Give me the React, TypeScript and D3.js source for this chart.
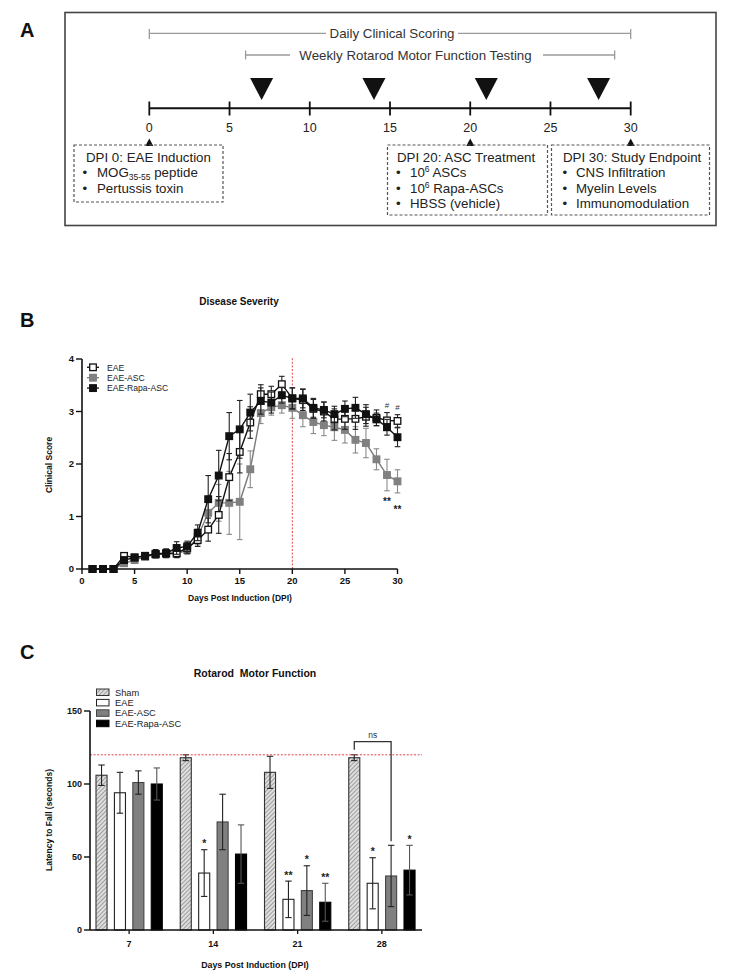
import React from "react";
import * as d3 from "d3";

const FONT = "'Liberation Sans', Arial, Helvetica, sans-serif";

// ---------- Panel A data ----------
const timelineTicks = [0, 5, 10, 15, 20, 25, 30];
const rotarodTestDays = [7, 14, 21, 28];
const milestoneDays = [0, 20, 30];
const clinicalSpan = [0, 30];
const rotarodSpan = [6, 29];
const boxTitles = ["DPI 0: EAE Induction", "DPI 20: ASC Treatment", "DPI 30: Study Endpoint"];
type Seg = { t: string; s?: "sub" | "sup" };
const box1Items: Seg[][] = [[{ t: "MOG" }, { t: "35-55", s: "sub" }, { t: " peptide" }], [{ t: "Pertussis toxin" }]];
const box2Items: Seg[][] = [
  [{ t: "10" }, { t: "6", s: "sup" }, { t: " ASCs" }],
  [{ t: "10" }, { t: "6", s: "sup" }, { t: " Rapa-ASCs" }],
  [{ t: "HBSS (vehicle)" }],
];
const box3Items: Seg[][] = [[{ t: "CNS Infiltration" }], [{ t: "Myelin Levels" }], [{ t: "Immunomodulation" }]];

// ---------- Panel B data ----------
const dpi = [1, 2, 3, 4, 5, 6, 7, 8, 9, 10, 11, 12, 13, 14, 15, 16, 17, 18, 19, 20, 21, 22, 23, 24, 25, 26, 27, 28, 29, 30];
const eaeScore = [0, 0, 0, 0.25, 0.22, 0.25, 0.28, 0.3, 0.3, 0.4, 0.55, 0.75, 1.03, 1.75, 2.23, 2.79, 3.33, 3.33, 3.52, 3.25, 3.22, 3.05, 3.0, 2.85, 2.86, 2.86, 2.9, 2.88, 2.83, 2.82];
const eaeScoreErr = [0, 0, 0, 0.05, 0.04, 0.05, 0.06, 0.08, 0.08, 0.1, 0.12, 0.22, 0.35, 0.45, 0.4, 0.3, 0.18, 0.15, 0.15, 0.2, 0.2, 0.18, 0.18, 0.2, 0.2, 0.2, 0.18, 0.15, 0.15, 0.12];
const ascScore = [0, 0, 0, 0.11, 0.17, 0.23, 0.28, 0.29, 0.29, 0.36, 0.61, 1.07, 1.26, 1.26, 1.28, 1.9, 2.97, 3.08, 3.12, 3.07, 2.93, 2.8, 2.74, 2.7, 2.65, 2.46, 2.4, 2.09, 1.79, 1.67];
const ascScoreErr = [0, 0, 0, 0.05, 0.05, 0.05, 0.06, 0.08, 0.08, 0.08, 0.15, 0.3, 0.35, 0.6, 0.72, 0.35, 0.2, 0.15, 0.15, 0.2, 0.22, 0.22, 0.2, 0.25, 0.25, 0.25, 0.28, 0.2, 0.3, 0.22];
const rapaScore = [0, 0, 0, 0.17, 0.22, 0.25, 0.29, 0.3, 0.4, 0.43, 0.69, 1.33, 1.78, 2.53, 2.66, 2.98, 3.2, 3.17, 3.31, 3.25, 3.25, 3.07, 3.03, 2.95, 3.05, 3.07, 2.95, 2.85, 2.7, 2.51];
const rapaScoreErr = [0, 0, 0, 0.05, 0.05, 0.05, 0.08, 0.08, 0.12, 0.1, 0.15, 0.45, 0.48, 0.45, 0.55, 0.35, 0.25, 0.2, 0.15, 0.2, 0.18, 0.18, 0.15, 0.15, 0.15, 0.2, 0.18, 0.12, 0.15, 0.18];
const bXTicks = [0, 5, 10, 15, 20, 25, 30];
const bYTicks = [0, 1, 2, 3, 4];
const treatmentDay = 20;
const hashDays = [29, 30];
const ascStarDays = [29, 30];

// ---------- Panel C data ----------
const rotGroups = ["7", "14", "21", "28"];
const rotSeries = ["Sham", "EAE", "EAE-ASC", "EAE-Rapa-ASC"];
const shamLatency = [106, 118, 108, 118];
const shamLatencyErr = [7, 2, 11, 2];
const eaeLatency = [94, 39, 21, 32];
const eaeLatencyErr = [14, 16, 12.5, 17.5];
const ascLatency = [101, 74, 27, 37];
const ascLatencyErr = [8, 19, 17, 21];
const rapaLatency = [100, 52, 19, 41];
const rapaLatencyErr = [11, 20, 13, 17];
const shamStars = ["", "", "", ""];
const eaeStars = ["", "*", "**", "*"];
const ascStars = ["", "", "*", ""];
const rapaStars = ["", "", "**", "*"];
const cYTicks = [0, 50, 100, 150];
const baselineLatency = 120;

function RichText({ x, y, segs, size }: { x: number; y: number; segs: Seg[]; size: number }) {
  const out: any[] = [];
  let shift = 0;
  segs.forEach((s, i) => {
    let target = 0;
    if (s.s === "sub") target = 2.8;
    if (s.s === "sup") target = -5;
    const dy = target - shift;
    shift = target;
    out.push(
      <tspan key={i} dy={dy} fontSize={s.s ? size * 0.64 : size}>
        {s.t}
      </tspan>
    );
  });
  return (
    <text x={x} y={y} fontSize={size} fill="#222">
      {out}
    </text>
  );
}

function PanelA() {
  const xA = d3.scaleLinear().domain([0, 30]).range([149.3, 630.7]);
  const axisY = 108.3;
  const fs = 13.3;
  const boxes = [
    { x: 74, y: 145, w: 149, h: 57, tx: 86, bx: 82.5, ix: 97, items: box1Items },
    { x: 387.5, y: 145, w: 160, h: 70, tx: 397, bx: 396, ix: 410, items: box2Items },
    { x: 551.5, y: 145, w: 158, h: 70, tx: 563, bx: 562.5, ix: 576, items: box3Items },
  ];
  return (
    <g fontFamily={FONT}>
      <rect x={65} y={12.5} width={651} height={213} fill="none" stroke="#444" strokeWidth={1.6} />
      <g stroke="#9a9a9a" strokeWidth={1.3}>
        <line x1={xA(clinicalSpan[0])} x2={326} y1={33.3} y2={33.3} />
        <line x1={458} x2={xA(clinicalSpan[1])} y1={33.3} y2={33.3} />
        <line x1={xA(clinicalSpan[0])} x2={xA(clinicalSpan[0])} y1={29} y2={39} />
        <line x1={xA(clinicalSpan[1])} x2={xA(clinicalSpan[1])} y1={29} y2={39} />
        <line x1={xA(rotarodSpan[0])} x2={290} y1={55} y2={55} />
        <line x1={543} x2={xA(rotarodSpan[1])} y1={55} y2={55} />
        <line x1={xA(rotarodSpan[0])} x2={xA(rotarodSpan[0])} y1={50.5} y2={59.5} />
        <line x1={xA(rotarodSpan[1])} x2={xA(rotarodSpan[1])} y1={50.5} y2={59.5} />
      </g>
      <text x={392} y={38} textAnchor="middle" fontSize={fs} fill="#333">Daily Clinical Scoring</text>
      <text x={415.5} y={59.8} textAnchor="middle" fontSize={fs} fill="#333">Weekly Rotarod Motor Function Testing</text>
      {rotarodTestDays.map((d) => (
        <polygon key={d} points={`${xA(d) - 11.5},78 ${xA(d) + 11.5},78 ${xA(d)},100`} fill="#111" />
      ))}
      <line x1={xA(0)} x2={xA(30)} y1={axisY} y2={axisY} stroke="#111" strokeWidth={2} />
      {timelineTicks.map((t) => (
        <g key={t}>
          <line x1={xA(t)} x2={xA(t)} y1={101.5} y2={115.5} stroke="#111" strokeWidth={1.8} />
          <text x={xA(t)} y={132} textAnchor="middle" fontSize={12.5} fill="#222">{t}</text>
        </g>
      ))}
      {milestoneDays.map((d) => (
        <polygon key={d} points={`${xA(d) - 4},146 ${xA(d) + 4},146 ${xA(d)},138.5`} fill="#111" />
      ))}
      {boxes.map((b, i) => (
        <g key={i}>
          <rect x={b.x} y={b.y} width={b.w} height={b.h} fill="none" stroke="#555" strokeWidth={1.2} strokeDasharray="3,2" />
          <text x={b.tx} y={161.7} fontSize={fs} fill="#222">{boxTitles[i]}</text>
          {b.items.map((it, j) => (
            <g key={j}>
              <text x={b.bx} y={177.2 + j * 15.5} fontSize={fs} fill="#222">•</text>
              <RichText x={b.ix} y={177.2 + j * 15.5} segs={it} size={fs} />
            </g>
          ))}
        </g>
      ))}
    </g>
  );
}

type Ser = { name: string; mean: number[]; err: number[]; fill: string; stroke: string; errColor: string };

function Marker({ x, y, fill, stroke }: { x: number; y: number; fill: string; stroke: string }) {
  const s = 6.6;
  return <rect x={x - s / 2} y={y - s / 2} width={s} height={s} fill={fill} stroke={stroke} strokeWidth={1.3} />;
}

function PanelB() {
  const xB = d3.scaleLinear().domain([0, 30]).range([82, 397.5]);
  const yB = d3.scaleLinear().domain([0, 4]).range([569, 359]);
  const series: Ser[] = [
    { name: "EAE-ASC", mean: ascScore, err: ascScoreErr, fill: "#808080", stroke: "#808080", errColor: "#8a8a8a" },
    { name: "EAE", mean: eaeScore, err: eaeScoreErr, fill: "#ffffff", stroke: "#111", errColor: "#222" },
    { name: "EAE-Rapa-ASC", mean: rapaScore, err: rapaScoreErr, fill: "#111", stroke: "#111", errColor: "#222" },
  ];
  const line = (m: number[]) =>
    d3
      .line<number>()
      .x((_, i) => xB(dpi[i]))
      .y((v) => yB(v))(m) as string;
  const legend = [series[1], series[0], series[2]];
  return (
    <g fontFamily={FONT}>
      <text x={239} y={305} textAnchor="middle" fontSize={10} fontWeight="bold" fill="#111">Disease Severity</text>
      <line x1={xB(treatmentDay)} x2={xB(treatmentDay)} y1={yB(0)} y2={358} stroke="#e0454a" strokeWidth={1} strokeDasharray="2,1.6" />
      <line x1={82} x2={82} y1={yB(0)} y2={yB(4)} stroke="#111" strokeWidth={1.6} />
      <line x1={82} x2={xB(30)} y1={yB(0)} y2={yB(0)} stroke="#111" strokeWidth={1.6} />
      {bYTicks.map((t) => (
        <g key={t}>
          <line x1={76} x2={82} y1={yB(t)} y2={yB(t)} stroke="#111" strokeWidth={1.4} />
          <text x={74} y={yB(t) + 3.3} textAnchor="end" fontSize={9.5} fontWeight="bold" fill="#111">{t}</text>
        </g>
      ))}
      {bXTicks.map((t) => (
        <g key={t}>
          <line x1={xB(t)} x2={xB(t)} y1={yB(0)} y2={yB(0) + 5} stroke="#111" strokeWidth={1.4} />
          <text x={xB(t)} y={583.5} textAnchor="middle" fontSize={9.5} fontWeight="bold" fill="#111">{t}</text>
        </g>
      ))}
      <text x={240} y={601} textAnchor="middle" fontSize={8.5} fontWeight="bold" fill="#111">Days Post Induction (DPI)</text>
      <text transform={`translate(52,465) rotate(-90)`} textAnchor="middle" fontSize={8.5} fontWeight="bold" fill="#111">Clinical Score</text>
      {series.map((s) => (
        <g key={s.name}>
          <path d={line(s.mean)} fill="none" stroke={s.name === "EAE-ASC" ? "#7a7a7a" : "#111"} strokeWidth={1.4} />
          {s.mean.map((v, i) =>
            s.err[i] > 0 ? (
              <g key={i} stroke={s.errColor} strokeWidth={1.1}>
                <line x1={xB(dpi[i])} x2={xB(dpi[i])} y1={yB(v - s.err[i])} y2={yB(v + s.err[i])} />
                <line x1={xB(dpi[i]) - 2.8} x2={xB(dpi[i]) + 2.8} y1={yB(v + s.err[i])} y2={yB(v + s.err[i])} />
                <line x1={xB(dpi[i]) - 2.8} x2={xB(dpi[i]) + 2.8} y1={yB(v - s.err[i])} y2={yB(v - s.err[i])} />
              </g>
            ) : null
          )}
          {s.mean.map((v, i) => (
            <Marker key={"m" + i} x={xB(dpi[i])} y={yB(v)} fill={s.fill} stroke={s.stroke} />
          ))}
        </g>
      ))}
      {hashDays.map((d) => {
        const i = dpi.indexOf(d);
        return (
          <text key={d} x={xB(d)} y={yB(eaeScore[i] + eaeScoreErr[i]) - 5} textAnchor="middle" fontSize={8} fill="#333">#</text>
        );
      })}
      {ascStarDays.map((d, k) => {
        const i = dpi.indexOf(d);
        return (
          <text key={d} x={xB(d)} y={yB(ascScore[i] - ascScoreErr[i]) + 14 + k * 6} textAnchor="middle" fontSize={10} fontWeight="bold" fill="#222">**</text>
        );
      })}
      {legend.map((s, i) => (
        <g key={s.name}>
          <line x1={87} x2={99} y1={367.3 + i * 10.4} y2={367.3 + i * 10.4} stroke={s.name === "EAE-ASC" ? "#7a7a7a" : "#111"} strokeWidth={1.3} />
          <Marker x={93} y={367.3 + i * 10.4} fill={s.fill} stroke={s.stroke} />
          <text x={107} y={370.5 + i * 10.4} fontSize={8.6} fill="#222">{s.name}</text>
        </g>
      ))}
    </g>
  );
}

function PanelC() {
  const xC = d3.scaleBand<string>().domain(rotGroups).range([87, 424]);
  const xSub = d3.scaleBand<string>().domain(rotSeries).range([9, 75.3]).paddingInner(0.4);
  const yC = d3.scaleLinear().domain([0, 150]).range([930, 711]);
  const bw = xSub.bandwidth();
  const series = [
    { name: "Sham", mean: shamLatency, err: shamLatencyErr, stars: shamStars, fill: "url(#hatch)", stroke: "#333" },
    { name: "EAE", mean: eaeLatency, err: eaeLatencyErr, stars: eaeStars, fill: "#ffffff", stroke: "#222" },
    { name: "EAE-ASC", mean: ascLatency, err: ascLatencyErr, stars: ascStars, fill: "#808080", stroke: "#444" },
    { name: "EAE-Rapa-ASC", mean: rapaLatency, err: rapaLatencyErr, stars: rapaStars, fill: "#000000", stroke: "#000" },
  ];
  const cx = (g: string, s: string) => (xC(g) as number) + (xSub(s) as number) + bw / 2;
  const g3 = rotGroups[3];
  const bracketTop = 741.7;
  return (
    <g fontFamily={FONT}>
      <defs>
        <pattern id="hatch" patternUnits="userSpaceOnUse" width={3} height={3} patternTransform="rotate(45)">
          <rect width={3} height={3} fill="#dedede" />
          <line x1={0} y1={0} x2={0} y2={3} stroke="#7a7a7a" strokeWidth={1.3} />
        </pattern>
      </defs>
      <text x={255} y={676.5} textAnchor="middle" fontSize={10.5} fontWeight="bold" fill="#111" style={{ whiteSpace: "pre" }}>
        Rotarod  Motor Function
      </text>
      {series.map((s) => (
        <g key={s.name}>
          {s.mean.map((v, i) => {
            const g = rotGroups[i];
            const x = (xC(g) as number) + (xSub(s.name) as number);
            const c = x + bw / 2;
            const top = yC(v + s.err[i]);
            const bot = yC(v - s.err[i]);
            const ec = s.name === "EAE-Rapa-ASC" ? "#555" : "#222";
            return (
              <g key={i}>
                <rect x={x} y={yC(v)} width={bw} height={yC(0) - yC(v)} fill={s.fill} stroke={s.stroke} strokeWidth={1.1} />
                <g stroke={ec} strokeWidth={1.1}>
                  <line x1={c} x2={c} y1={top} y2={bot} />
                  <line x1={c - 3.2} x2={c + 3.2} y1={top} y2={top} />
                  <line x1={c - 3.2} x2={c + 3.2} y1={bot} y2={bot} />
                </g>
                {s.stars[i] ? (
                  <text x={c} y={top - 2.5} textAnchor="middle" fontSize={10.5} fontWeight="bold" fill="#222">{s.stars[i]}</text>
                ) : null}
              </g>
            );
          })}
        </g>
      ))}
      <line x1={90} x2={422} y1={yC(baselineLatency)} y2={yC(baselineLatency)} stroke="#e0454a" strokeWidth={1} strokeDasharray="2,1.6" />
      <path
        d={`M${cx(g3, "Sham")},${yC(shamLatency[3] + shamLatencyErr[3]) - 5} V${bracketTop} H${cx(g3, "EAE-ASC")} V${yC(ascLatency[3] + ascLatencyErr[3]) - 4}`}
        fill="none"
        stroke="#333"
        strokeWidth={1.3}
      />
      <text x={(cx(g3, "Sham") + cx(g3, "EAE-ASC")) / 2} y={737.5} textAnchor="middle" fontSize={8.5} fill="#333">ns</text>
      <line x1={90} x2={90} y1={yC(0)} y2={yC(150)} stroke="#111" strokeWidth={1.6} />
      <line x1={90} x2={422} y1={yC(0)} y2={yC(0)} stroke="#111" strokeWidth={1.6} />
      {cYTicks.map((t) => (
        <g key={t}>
          <line x1={84} x2={90} y1={yC(t)} y2={yC(t)} stroke="#111" strokeWidth={1.4} />
          <text x={82} y={yC(t) + 3.2} textAnchor="end" fontSize={9} fontWeight="bold" fill="#111">{t}</text>
        </g>
      ))}
      {rotGroups.map((g) => {
        const c = (xC(g) as number) + xC.bandwidth() / 2;
        return (
          <g key={g}>
            <line x1={c} x2={c} y1={yC(0)} y2={yC(0) + 4} stroke="#111" strokeWidth={1.3} />
            <text x={c} y={946.5} textAnchor="middle" fontSize={9} fontWeight="bold" fill="#111">{g}</text>
          </g>
        );
      })}
      <text x={255} y={968} textAnchor="middle" fontSize={8.8} fontWeight="bold" fill="#111">Days Post Induction (DPI)</text>
      <text transform={`translate(52,820) rotate(-90)`} textAnchor="middle" fontSize={8.5} fontWeight="bold" fill="#111">Latency to Fall (seconds)</text>
      {series.map((s, i) => (
        <g key={s.name}>
          <rect x={96.5} y={689 + i * 10.4} width={12.5} height={6.5} fill={s.fill} stroke={s.stroke} strokeWidth={1} />
          <text x={115} y={695.5 + i * 10.4} fontSize={9.3} fill="#222">{s.name}</text>
        </g>
      ))}
    </g>
  );
}

export default function App() {
  return (
    <svg width={740} height={980} style={{ position: "absolute", left: 0, top: 0, background: "#fff" }}>
      <rect width={740} height={980} fill="#fff" />
      <g fontFamily={FONT} fontWeight="bold" fontSize={20} fill="#111">
        <text x={20} y={37}>A</text>
        <text x={20} y={327}>B</text>
        <text x={20} y={659}>C</text>
      </g>
      <PanelA />
      <PanelB />
      <PanelC />
    </svg>
  );
}
